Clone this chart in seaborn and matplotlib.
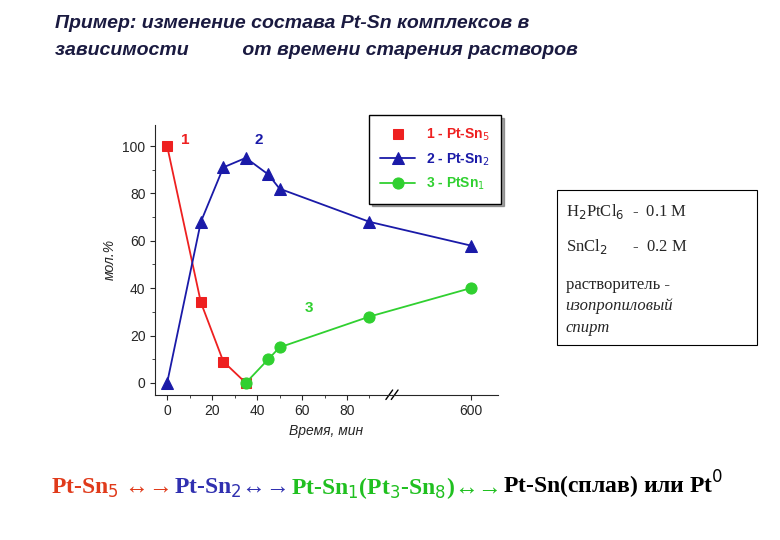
import matplotlib
matplotlib.use('Agg')
import matplotlib.pyplot as plt
import seaborn as sns
import pandas as pd
from matplotlib.patches import Rectangle

# data (time 600 min is drawn after an axis break, at position 135)
t1 = [0, 15, 25, 35]
pt_sn5 = [100, 34, 9, 0]
t2 = [0, 15, 25, 35, 45, 50, 90, 600]
pt_sn2 = [0, 68, 91, 95, 88, 82, 68, 58]
t3 = [35, 45, 50, 90, 600]
pt_sn1 = [0, 10, 15, 28, 40]
tick_vals = [0, 20, 40, 60, 80, 600]


def pos(t):
    return 135 if t == 600 else t


sns.set_style('ticks')
plt.rcParams['font.family'] = ['Liberation Sans', 'DejaVu Sans']

fig = plt.figure(figsize=(7.8, 5.4), dpi=100)
ax = fig.add_axes([0.199, 0.269, 0.439, 0.50])

red, blue, green = '#ee2020', '#1a1aa8', '#30d030'
df1 = pd.DataFrame({'x': [pos(t) for t in t1], 'y': pt_sn5})
df2 = pd.DataFrame({'x': [pos(t) for t in t2], 'y': pt_sn2})
df3 = pd.DataFrame({'x': [pos(t) for t in t3], 'y': pt_sn1})
sns.lineplot(data=df1, x='x', y='y', ax=ax, color=red, marker='s', markersize=7,
             markeredgecolor=red, lw=1.3, label='1 - Pt-Sn$_5$')
sns.lineplot(data=df2, x='x', y='y', ax=ax, color=blue, marker='^', markersize=9,
             markeredgecolor=blue, lw=1.3, label='2 - Pt-Sn$_2$')
sns.lineplot(data=df3, x='x', y='y', ax=ax, color=green, marker='o', markersize=8,
             markeredgecolor=green, lw=1.3, label='3 - PtSn$_1$')

ax.set_xlim(-5.3, 147)
ax.set_ylim(-5, 109)
ax.set_xticks([pos(t) for t in tick_vals])
ax.set_xticklabels([str(t) for t in tick_vals], fontsize=10)
ax.set_xticks(range(10, 100, 20), minor=True)
ax.set_yticks(range(0, 101, 20))
ax.set_yticks(range(10, 100, 20), minor=True)
ax.tick_params(labelsize=10)
ax.spines['top'].set_visible(False)
ax.spines['right'].set_visible(False)
ax.set_xlabel('Время, мин', fontstyle='italic', fontsize=10)
ax.set_ylabel('мол.%', fontstyle='italic', fontsize=10)
# axis break marks
for dx in (-1.2, 1.2):
    ax.plot([100 + dx - 1.5, 100 + dx + 1.5], [-7, -3], color='black', lw=1,
            clip_on=False, transform=ax.transData)

ax.text(6, 101, '1', color=red, fontsize=11, fontweight='bold')
ax.text(39, 101, '2', color=blue, fontsize=11, fontweight='bold')
ax.text(61, 30, '3', color=green, fontsize=11, fontweight='bold')

leg = ax.legend(loc='upper right', bbox_to_anchor=(1.03, 1.06), frameon=True,
                fancybox=False, shadow=True, fontsize=10, handlelength=2.5,
                borderpad=0.8, labelspacing=0.6)
leg.get_frame().set_edgecolor('black')
leg.get_lines()[0].set_linestyle('none')
for txt, c in zip(leg.get_texts(), [red, blue, green]):
    txt.set_color(c)
    txt.set_fontweight('bold')

fig.text(0.07, 0.948, 'Пример: изменение состава Pt-Sn комплексов в', fontsize=14,
         fontweight='bold', fontstyle='italic', color='#1a1a40')
fig.text(0.07, 0.898, 'зависимости          от времени старения растворов', fontsize=14,
         fontweight='bold', fontstyle='italic', color='#1a1a40')

fig.add_artist(Rectangle((0.714, 0.361), 0.256, 0.287, transform=fig.transFigure,
                         fill=False, edgecolor='black', lw=0.8))
serif = ['Liberation Serif', 'DejaVu Serif']
fig.text(0.725, 0.6, 'H$_2$PtCl$_6$  -  0.1 M', fontsize=12, family=serif)
fig.text(0.725, 0.535, 'SnCl$_2$      -  0.2 M', fontsize=12, family=serif)
fig.text(0.725, 0.465, 'растворитель -', fontsize=12, family=serif)
fig.text(0.725, 0.425, 'изопропиловый', fontsize=12, family=serif, fontstyle='italic')
fig.text(0.725, 0.385, 'спирт', fontsize=12, family=serif, fontstyle='italic')

bottom = [('Pt-Sn$_5$ ↔→ ', '#e03a1a'), ('Pt-Sn$_2$↔→ ', '#3030b0'),
          ('Pt-Sn$_1$(Pt$_3$-Sn$_8$)↔→ ', '#20c020'), ('Pt-Sn(сплав) или Pt$^0$', 'black')]
x = 0.065
for s, c in bottom:
    t = fig.text(x, 0.085, s, fontsize=17, color=c, family=serif, fontweight='bold')
    fig.canvas.draw()
    bb = t.get_window_extent()
    x += bb.width / fig.bbox.width

fig.savefig('out.png', dpi=100)
